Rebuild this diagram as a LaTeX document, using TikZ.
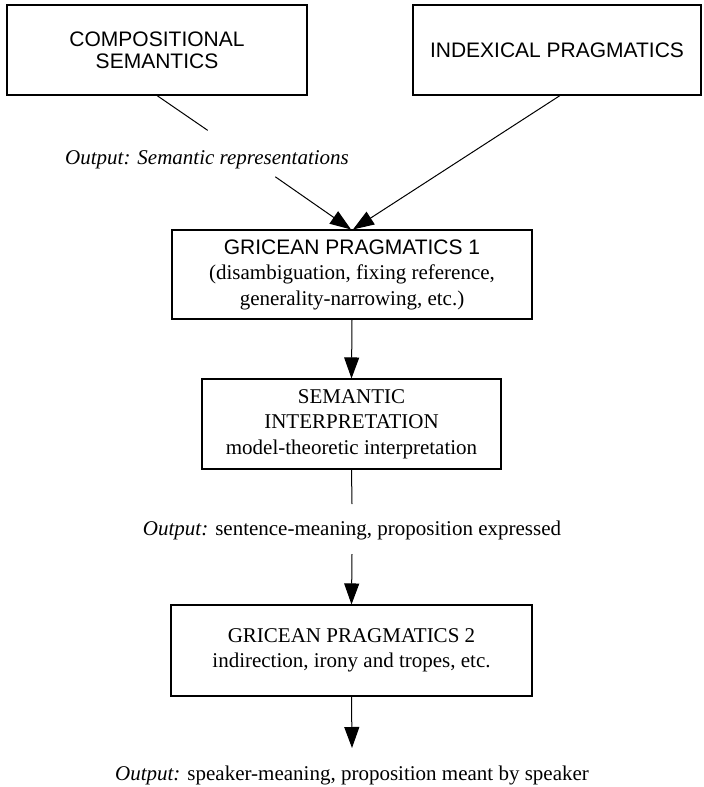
\documentclass[tikz,border=0pt]{standalone}
\usepackage{fontspec}
\setmainfont{Liberation Serif}
\setsansfont{Liberation Sans}
\usetikzlibrary{arrows.meta,calc}
\begin{document}
\begin{tikzpicture}[x=1pt,y=-1pt,
  box/.style={draw,line width=1.1pt,inner sep=0pt,align=center},
  sbox/.style={box,font=\sffamily\fontsize{21}{22}\selectfont},
  tbox/.style={box,font=\fontsize{21}{25.5}\selectfont},
  outtext/.style={anchor=base,inner sep=0pt,font=\fontsize{21}{25}\selectfont},
  conn/.style={line width=1pt},
  arr/.style={conn,-{Triangle[length=21pt,width=15pt]}}]
\useasboundingbox (0,0) rectangle (704,787);
% boxes
\node[sbox,minimum width=300pt,minimum height=90pt] (comp) at (157,50) {COMPOSITIONAL\\SEMANTICS};
\node[sbox,minimum width=288pt,minimum height=90pt] (index) at (557,50) {INDEXICAL PRAGMATICS};
\node[tbox,minimum width=360pt,minimum height=89pt] (gp1) at (352,274.5)
  {{\sffamily GRICEAN PRAGMATICS 1}\\(disambiguation, fixing reference,\\generality-narrowing, etc.)};
\node[tbox,minimum width=299pt,minimum height=90pt] (si) at (351.5,424)
  {SEMANTIC\\INTERPRETATION\\model-theoretic interpretation};
\node[tbox,minimum width=361pt,minimum height=91pt] (gp2) at (351.5,650.5)
  {GRICEAN PRAGMATICS 2\\indirection, irony and tropes, etc.};
% output labels
\node[outtext] (out1) at (207,164) {\itshape Output: Semantic representations};
\node[outtext] (out2) at (352,535) {\textit{Output:} sentence-meaning, proposition expressed};
\node[outtext] (out3) at (352,780) {\textit{Output:} speaker-meaning, proposition meant by speaker};
% connector coordinates
\coordinate (ca) at ($(comp.south)!0.26!(gp1.north)$);
\coordinate (cb) at ($(comp.south)!0.607!(gp1.north)$);
\coordinate (ia) at ([xshift=3pt]index.south);
\coordinate (sa) at (352,504);
\coordinate (sb) at (352,554);
\coordinate (ga) at (352,748);
% connectors
\draw[conn] (comp.south) -- (ca);
\draw[arr] (cb) -- ([xshift=-1pt]gp1.north);
\draw[arr] (ia) -- ([xshift=1pt]gp1.north);
\draw[arr] (gp1.south) -- (si.north);
\draw[conn] (si.south) -- (sa);
\draw[arr] (sb) -- (gp2.north);
\draw[arr] (gp2.south) -- (ga);
\end{tikzpicture}
\end{document}
